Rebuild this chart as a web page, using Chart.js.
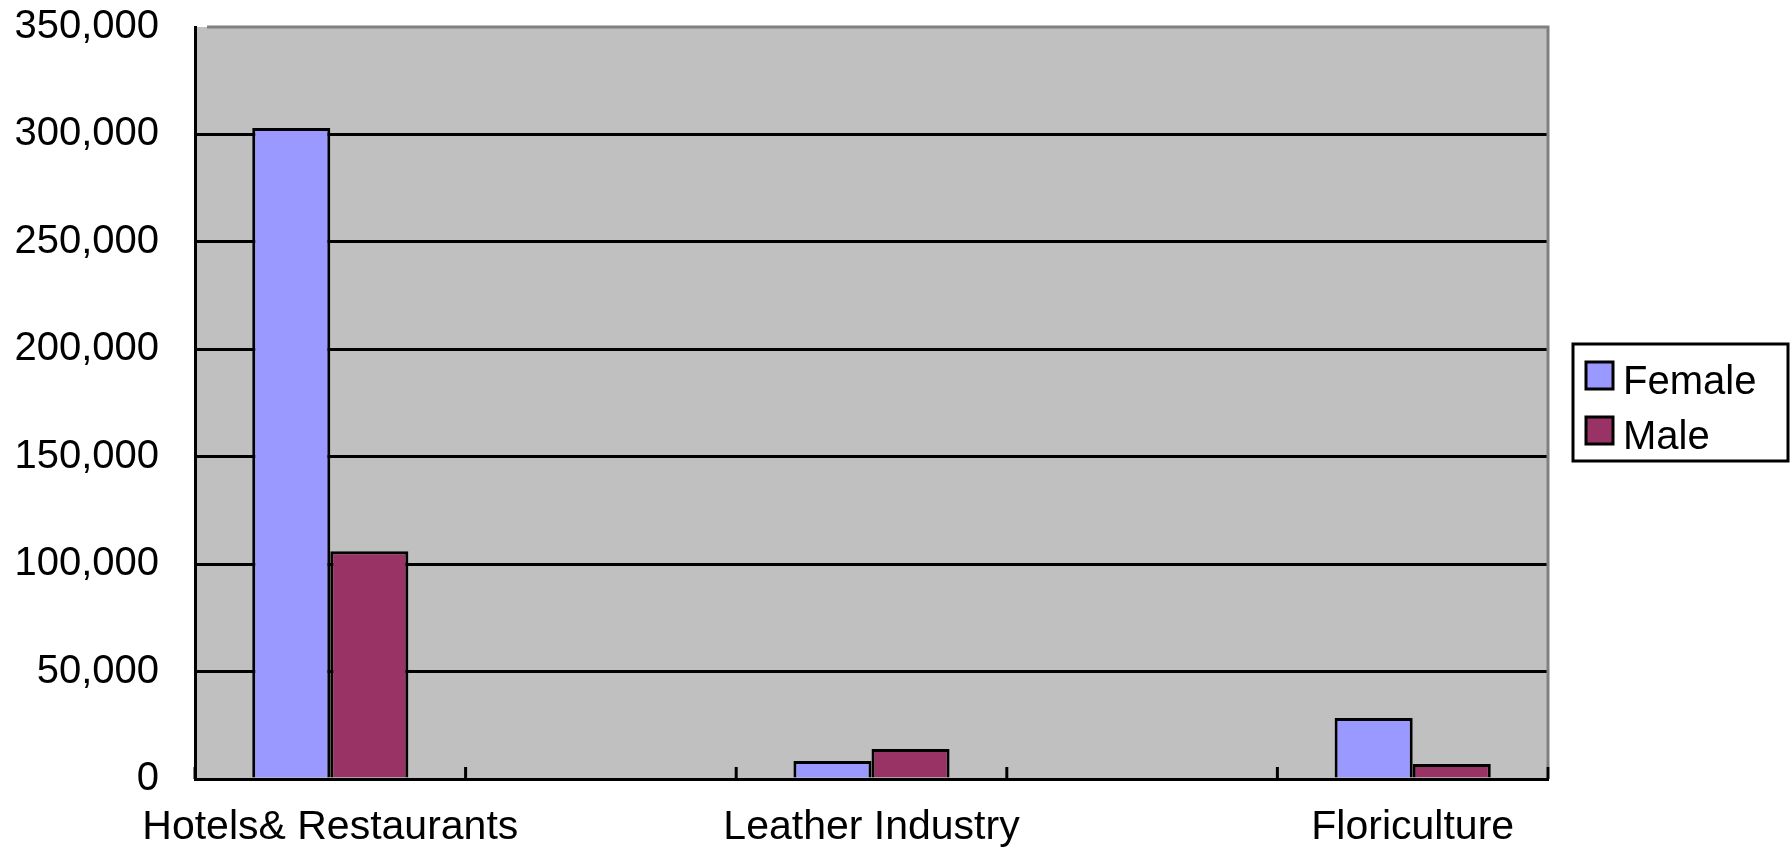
<!DOCTYPE html>
<html>
<head>
<meta charset="utf-8">
<title>Employment by sector and sex</title>
<script src="https://cdn.jsdelivr.net/npm/chart.js@4.4.1/dist/chart.umd.min.js"></script>
<style>
  html, body { margin: 0; padding: 0; background: #ffffff; }
  #wrap { position: relative; width: 1791px; height: 850px; }
</style>
</head>
<body>
<div id="wrap"><canvas id="sectorChart"></canvas></div>
<script>
// sectors (blank slots keep the gaps between the groups)
const categories = ['Hotels& Restaurants', '', 'Leather Industry', '', 'Floriculture'];
const femaleValues = [303000, null, 8400, null, 28400];
const maleValues = [106000, null, 14000, null, 7000];
const yTicks = [0, 50000, 100000, 150000, 200000, 250000, 300000, 350000];

const FONT = "'Liberation Sans', Arial, sans-serif";

// grey plot background plus grey frame on the top and right
const plotFrame = {
    id: 'plotFrame',
    beforeDraw(chart) {
        const { ctx, chartArea: a } = chart;
        ctx.save();
        ctx.fillStyle = '#c0c0c0';
        ctx.fillRect(a.left, a.top, a.right - a.left, a.bottom - a.top);
        ctx.restore();
    },
    afterDraw(chart) {
        const { ctx, chartArea: a } = chart;
        ctx.save();
        ctx.strokeStyle = '#808080';
        ctx.lineWidth = 3;
        ctx.beginPath();
        ctx.moveTo(a.left + 12, a.top);
        ctx.lineTo(a.right, a.top);
        ctx.lineTo(a.right, a.bottom - 12);
        ctx.stroke();
        ctx.restore();
    }
};

// short tick marks pointing into the plot at each category boundary
const innerTicks = {
    id: 'innerTicks',
    afterDatasetsDraw(chart) {
        const { ctx, chartArea: a } = chart;
        const x = chart.scales.x;
        const n = categories.length;
        const step = (x.right - x.left) / n;
        ctx.save();
        ctx.strokeStyle = '#000';
        ctx.lineWidth = 3;
        for (let i = 0; i <= n; i++) {
            const px = x.left + i * step;
            ctx.beginPath();
            ctx.moveTo(px, a.bottom);
            ctx.lineTo(px, a.bottom - 12);
            ctx.stroke();
        }
        ctx.restore();
    }
};

// boxed legend on the right
const boxLegend = {
    id: 'boxLegend',
    afterDraw(chart) {
        const { ctx } = chart;
        const box = { left: 1573, top: 344, width: 215, height: 117 };
        ctx.save();
        ctx.fillStyle = '#fff';
        ctx.fillRect(box.left, box.top, box.width, box.height);
        ctx.strokeStyle = '#000';
        ctx.lineWidth = 3;
        ctx.strokeRect(box.left, box.top, box.width, box.height);
        ctx.font = '40px ' + FONT;
        ctx.textBaseline = 'alphabetic';
        chart.data.datasets.forEach((ds, i) => {
            const sy = box.top + 18 + i * 55;
            ctx.fillStyle = ds.backgroundColor;
            ctx.fillRect(box.left + 13, sy, 27, 27);
            ctx.strokeStyle = '#000';
            ctx.strokeRect(box.left + 13, sy, 27, 27);
            ctx.fillStyle = '#000';
            ctx.fillText(ds.label, box.left + 50, sy + 32);
        });
        ctx.restore();
    }
};

const ctx = document.getElementById('sectorChart').getContext('2d');
new Chart(ctx, {
    type: 'bar',
    data: {
        labels: categories,
        datasets: [
            {
                label: 'Female',
                data: femaleValues,
                backgroundColor: '#9999ff',
                borderColor: '#000',
                borderWidth: 3
            },
            {
                label: 'Male',
                data: maleValues,
                backgroundColor: '#993366',
                borderColor: '#000',
                borderWidth: 3
            }
        ]
    },
    options: {
        responsive: true,
        maintainAspectRatio: false,
        animation: false,
        layout: {
            padding: { top: 27, right: 243, bottom: 0, left: 0 }
        },
        datasets: {
            bar: { categoryPercentage: 0.577, barPercentage: 1.0 }
        },
        plugins: {
            legend: { display: false },
            tooltip: { enabled: false }
        },
        scales: {
            x: {
                grid: { drawOnChartArea: false, drawTicks: false },
                border: { display: true, color: '#000', width: 3 },
                ticks: {
                    color: '#000',
                    font: { family: FONT, size: 41 },
                    padding: 24,
                    maxRotation: 0,
                    minRotation: 0,
                    autoSkip: false
                },
                afterFit(scale) {
                    scale.height = 71;
                    scale.paddingLeft = 0;
                    scale.paddingRight = 0;
                }
            },
            y: {
                min: 0,
                max: 350000,
                afterBuildTicks(scale) {
                    scale.ticks = yTicks.map(v => ({ value: v }));
                },
                grid: {
                    color: c => (c.tick && c.tick.value === 350000 ? 'rgba(0,0,0,0)' : '#000'),
                    lineWidth: 3,
                    drawTicks: false
                },
                border: { display: true, color: '#000', width: 3 },
                ticks: {
                    color: '#000',
                    font: { family: FONT, size: 40 },
                    padding: 36,
                    callback: v => v.toLocaleString('en-US')
                },
                afterFit(scale) {
                    scale.width = 195;
                    scale.paddingTop = 0;
                    scale.paddingBottom = 0;
                }
            }
        }
    },
    plugins: [plotFrame, innerTicks, boxLegend]
});
</script>
</body>
</html>
